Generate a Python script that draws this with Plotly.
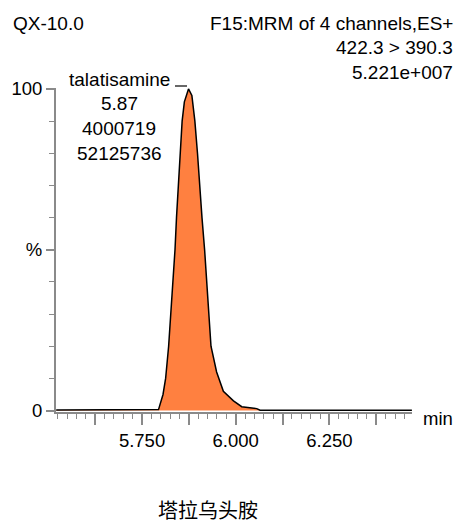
import plotly.graph_objects as go

# Retention time (min) and relative intensity (%)
rt = [5.521, 5.600, 5.700, 5.780, 5.794, 5.806, 5.813, 5.821, 5.827, 5.834,
      5.838, 5.842, 5.847, 5.851, 5.857, 5.863, 5.874, 5.883, 5.891, 5.898,
      5.903, 5.910, 5.917, 5.922, 5.927, 5.934, 5.949, 5.967, 5.994, 6.016,
      6.056, 6.065, 6.200, 6.350, 6.470]
intensity = [0.2, 0.2, 0.2, 0.2, 0.3, 5, 10, 20, 30, 40,
             50, 60, 70, 80, 90, 96, 100, 98, 90, 80,
             70, 60, 50, 40, 30, 20, 12, 6, 3, 1.2,
             0.6, 0.1, 0.1, 0.1, 0.1]

x_major = [5.625, 5.750, 5.875, 6.000, 6.125, 6.250, 6.375]
x_major_text = ["", "5.750", "", "6.000", "", "6.250", ""]
y_ticks = [0, 50, 100]
y_tick_text = ["0", "%", "100"]

header_left = "QX-10.0"
header_right = ["F15:MRM of 4 channels,ES+", "422.3 > 390.3", "5.221e+007"]
peak_label = ["talatisamine", "5.87", "4000719", "52125736"]
x_unit = "min"
caption = "塔拉乌头胺"

FONT = "Liberation Sans, Arial, sans-serif"
AXIS_GRAY = "#8a8a8a"

fig = go.Figure()
fig.add_trace(go.Scatter(
    x=rt, y=intensity, mode="lines",
    line=dict(color="black", width=1.5),
    fill="tozeroy", fillcolor="#FF8040",
    hoverinfo="skip", showlegend=False,
))

L, R, T, B = 56, 47, 88, 113
W, H = 459, 525
pw, ph = W - L - R, H - T - B


def px_to_paper(px, py):
    return (px - L) / pw, (H - B - py) / ph


annotations = []


def add_text(text, px, py, xanchor, size=19, family=FONT):
    xp, yp = px_to_paper(px, py)
    annotations.append(dict(
        text=text, x=xp, y=yp, xref="paper", yref="paper",
        xanchor=xanchor, yanchor="middle", showarrow=False,
        borderpad=0,
        font=dict(family=family, size=size, color="black"),
    ))


add_text(header_left, 12, 23, "left")
for t, py in zip(header_right, [23, 48, 72]):
    add_text(t, 454, py, "right")
for t, py in zip(peak_label, [79, 103, 128, 153]):
    add_text(t, 119, py, "center")
add_text(x_unit, 422, 418, "left", size=18.5)
add_text(caption, 208, 509, "center", size=20, family="Noto Sans CJK SC")

x0, y0 = px_to_paper(175, 86)
x1, _ = px_to_paper(187, 86)
fig.add_shape(type="line", xref="paper", yref="paper",
              x0=x0, x1=x1, y0=y0, y1=y0,
              line=dict(color="black", width=1.2))

fig.update_layout(
    width=W, height=H,
    margin=dict(l=L, r=R, t=T, b=B, pad=0),
    paper_bgcolor="white", plot_bgcolor="white",
    font=dict(family=FONT, size=18.5, color="black"),
    annotations=annotations,
    showlegend=False,
)
fig.update_xaxes(
    range=[5.5205, 6.4703], showgrid=False, zeroline=False,
    showline=True, linecolor=AXIS_GRAY, linewidth=2,
    tickmode="array", tickvals=x_major, ticktext=x_major_text,
    ticks="outside", ticklen=11, tickwidth=1.5, tickcolor=AXIS_GRAY,
    minor=dict(dtick=0.025, tick0=5.5, ticks="outside", ticklen=5,
               tickwidth=1.2, tickcolor=AXIS_GRAY, showgrid=False),
    tickfont=dict(size=18.5, family=FONT, color="black"),
    fixedrange=True,
)
fig.update_yaxes(
    range=[-0.45, 100.3], showgrid=False, zeroline=False,
    showline=True, linecolor=AXIS_GRAY, linewidth=2,
    tickmode="array", tickvals=y_ticks, ticktext=y_tick_text,
    ticks="outside", ticklen=8, tickwidth=1.5, tickcolor=AXIS_GRAY,
    minor=dict(dtick=10, tick0=0, ticks="outside", ticklen=5,
               tickwidth=1.2, tickcolor=AXIS_GRAY, showgrid=False),
    tickfont=dict(size=18.5, family=FONT, color="black"),
    fixedrange=True,
)

fig.write_html("out.html")
